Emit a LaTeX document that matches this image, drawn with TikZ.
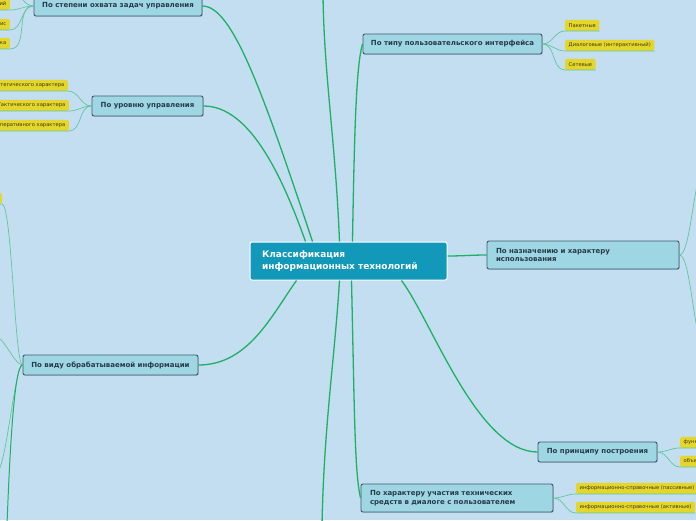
\documentclass[tikz,border=0pt]{standalone}
\usepackage{fontspec}
\setmainfont{DejaVu Sans}
\usetikzlibrary{shadows}

\definecolor{bgblue}{RGB}{195,222,240}
\definecolor{rootfill}{RGB}{18,153,186}
\definecolor{topicfill}{RGB}{158,214,228}
\definecolor{topicline}{RGB}{62,90,106}
\definecolor{topictext}{RGB}{40,58,72}
\definecolor{leaffill}{RGB}{228,214,43}
\definecolor{leaftext}{RGB}{60,58,30}
\definecolor{mainline}{RGB}{30,176,100}
\definecolor{subline}{RGB}{95,200,155}

\begin{document}
\begin{tikzpicture}[
    x=1pt, y=-1pt,
    root/.style={rectangle, rounded corners=2pt, draw=white, line width=1pt, fill=rootfill,
        text=white, font=\fontsize{9}{12}\selectfont\bfseries, align=left,
        text width=173pt, inner xsep=12pt, minimum height=38pt},
    topic/.style={rectangle, rounded corners=2pt, draw=topicline, line width=0.9pt, fill=topicfill,
        text=topictext, font=\fontsize{7}{8.7}\selectfont\bfseries, minimum height=20pt, inner xsep=2pt,
        drop shadow={shadow xshift=0.8pt, shadow yshift=-0.8pt, opacity=0.3}},
    twoline/.style={topic, align=left, text width=174pt, inner xsep=9pt, minimum height=28pt},
    leaf/.style={rectangle, rounded corners=1.5pt, fill=leaffill, text=leaftext,
        font=\fontsize{5.2}{6}\selectfont, minimum height=11pt, inner xsep=3.5pt, inner ysep=0pt},
    mainedge/.style={color=mainline, line width=1.3pt},
    subedge/.style={color=subline, line width=0.7pt}
]
    \useasboundingbox (0,0) rectangle (696,520);
    \clip (0,0) rectangle (696,520);
    \fill[bgblue] (0,0) rectangle (696,520);

    % edges off the frame
    \coordinate (topup) at (323,-5);
    \coordinate (topdown) at (322,525);
    \coordinate (l10) at (8,-12);
    \coordinate (l41) at (706,165);
    \coordinate (l42) at (706,350);
    \coordinate (l52) at (-4,337);
    \coordinate (l53) at (-4,473);
    \coordinate (t5down) at (7,525);

    \node[root] (ctr) at (348.5,261) {Классификация\\информационных технологий};

    \node[topic, minimum width=168pt] (t1) at (118,6) {По степени охвата задач управления};
    \node[topic, minimum width=111pt] (t2) at (147.5,106) {По уровню управления};
    \node[topic, minimum width=179pt] (t3) at (452.5,44) {По типу пользовательского интерфейса};
    \node[twoline] (t4) at (583,255) {По назначению и характеру\\использования};
    \node[topic, minimum width=175pt] (t5) at (110.5,365) {По виду обрабатываемой информации};
    \node[topic, minimum width=119pt] (t6) at (597.5,452) {По принципу построения};
    \node[twoline] (t7) at (457,498) {По характеру участия технических\\средств в диалоге с пользователем};

    % main branches
    \draw[mainedge] ([xshift=-36pt]ctr.north) .. controls +(-50,-150) and +(30,0) .. (t1.east);
    \draw[mainedge] ([xshift=-43pt]ctr.north) .. controls +(-25,-70) and +(45,0) .. (t2.east);
    \draw[mainedge] ([xshift=-9pt]ctr.north) .. controls +(-4,-100) and +(1,80) .. (topup);
    \draw[mainedge] ([xshift=4pt]ctr.north) .. controls +(2,-120) and +(-6,20) .. (t3.west);
    \draw[mainedge] ([yshift=5pt]ctr.east) to[out=0, in=180] (t4.west);
    \draw[mainedge] ([xshift=-52pt]ctr.south) .. controls +(-25,35) and +(50,0) .. (t5.east);
    \draw[mainedge] ([xshift=-9pt]ctr.south) .. controls +(-5,80) and +(2,-100) .. (topdown);
    \draw[mainedge] ([xshift=3pt]ctr.south) .. controls +(3,130) and +(-6,-25) .. (t7.west);
    \draw[mainedge] ([xshift=53pt]ctr.south) .. controls +(30,40) and +(-60,0) .. (t6.west);

    % leaves
    \node[leaf, anchor=south east] (l11) at (10,10) {Поддержка принятия решений};
    \node[leaf, anchor=south east] (l12) at (10,30) {Электронный офис};
    \node[leaf, anchor=south east] (l13) at (10,49) {Экспертная поддержка};

    \node[leaf, anchor=south east] (l21) at (68,91) {Стратегического характера};
    \node[leaf, anchor=south east] (l22) at (69,111) {Тактического характера};
    \node[leaf, anchor=south east] (l23) at (69,131) {Оперативного характера};

    \node[leaf, anchor=south west] (l31) at (565,31) {Пакетные};
    \node[leaf, anchor=south west] (l32) at (565,51) {Диалоговые (интерактивный)};
    \node[leaf, anchor=south west] (l33) at (565,70) {Сетевые};

    \node[leaf, anchor=south east, minimum width=30pt] (l51) at (2,204) {};

    \node[leaf, anchor=south west] (l61) at (680,448) {функционально-ориентированные};
    \node[leaf, anchor=south west] (l62) at (680,467) {объектно-ориентированные};

    \node[leaf, anchor=south west] (l71) at (576,494) {информационно-справочные (пассивные)};
    \node[leaf, anchor=south west] (l72) at (576,513) {информационно-справочные (активные)};

    \draw[subedge] (t1.west) to[out=180, in=0] (l10);
    \foreach \l in {l11,l12,l13}
        \draw[subedge] (t1.west) to[out=180, in=0] (\l.south east) -- (\l.south west);
    \foreach \l in {l21,l22,l23}
        \draw[subedge] (t2.west) to[out=180, in=0] (\l.south east) -- (\l.south west);
    \foreach \l in {l31,l32,l33}
        \draw[subedge] (t3.east) to[out=0, in=180] (\l.south west) -- (\l.south east);
    \foreach \l in {l61,l62}
        \draw[subedge] (t6.east) to[out=0, in=180] (\l.south west) -- (\l.south east);
    \foreach \l in {l71,l72}
        \draw[subedge] (t7.east) to[out=0, in=180] (\l.south west) -- (\l.south east);

    \draw[subedge] (t4.east) .. controls +(12,0) and +(-12,0) .. (l41);
    \draw[subedge] (t4.east) .. controls +(12,0) and +(-12,0) .. (l42);

    \draw[subedge] (t5.west) .. controls +(-8,0) and +(10,0) .. (l51.south east) -- (l51.south west);
    \draw[subedge] (t5.west) .. controls +(-8,0) and +(8,0) .. (l52);
    \draw[subedge] (t5.west) .. controls +(-8,0) and +(10,0) .. (l53);
    \draw[mainedge, line width=1pt] (t5.west) .. controls +(-8,0) and +(3,-80) .. (t5down);
\end{tikzpicture}
\end{document}
